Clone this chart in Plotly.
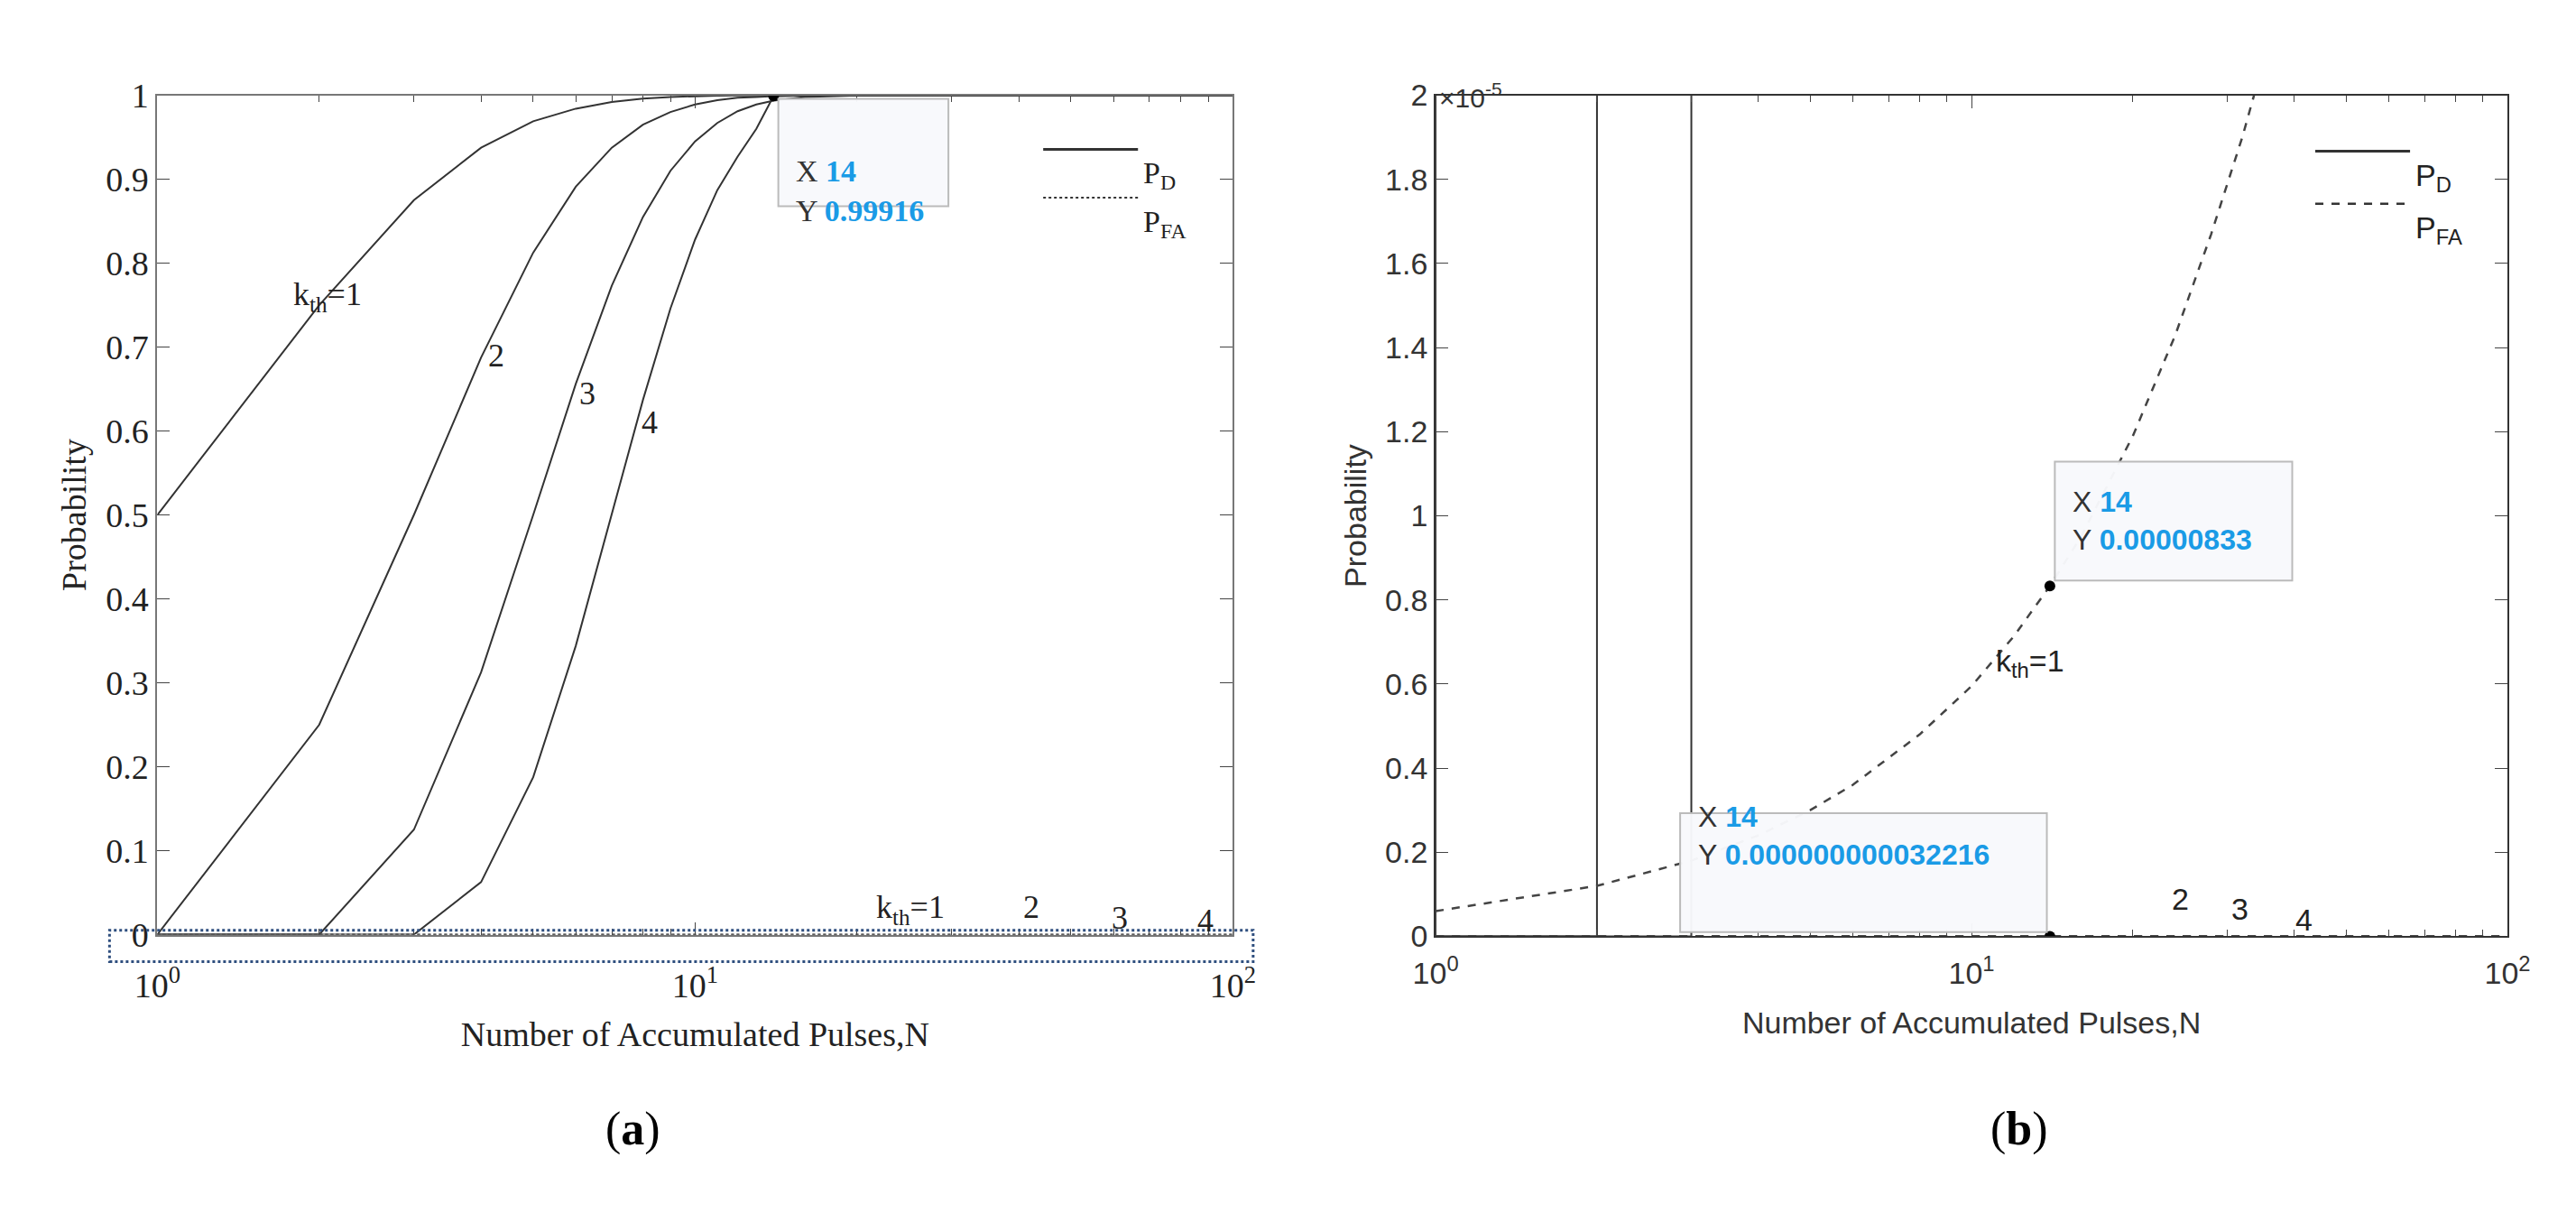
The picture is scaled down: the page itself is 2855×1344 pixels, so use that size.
import plotly.graph_objects as go

# ---------------- data ----------------
N_pd = [1, 2, 3, 4, 5, 6, 7, 8, 9, 10, 11, 12, 13, 14, 16, 20, 30, 50, 100]
pd_k1 = [0.5, 0.75, 0.875, 0.9375, 0.969, 0.984, 0.992, 0.996, 0.998, 0.999, 0.9995, 0.9998, 0.9999, 0.99995, 1, 1, 1, 1, 1]
pd_k2 = [0.0, 0.25, 0.5, 0.6875, 0.8125, 0.891, 0.9375, 0.965, 0.980, 0.989, 0.994, 0.997, 0.998, 0.999, 0.9997, 1, 1, 1, 1]
pd_k3 = [0.0, 0.0, 0.125, 0.3125, 0.5, 0.656, 0.773, 0.855, 0.910, 0.945, 0.967, 0.981, 0.989, 0.9935, 0.998, 0.9998, 1, 1, 1]
pd_k4 = [0.0, 0.0, 0.0, 0.0625, 0.1875, 0.344, 0.5, 0.637, 0.746, 0.828, 0.887, 0.927, 0.960, 0.99916, 0.9995, 0.9999, 1, 1, 1]

N_fa = [1, 2, 3, 4, 5, 6, 8, 10, 12, 14, 16, 20, 24, 28, 32, 34, 40, 60, 100]
pfa_k1 = [0.06e-5, 0.12e-5, 0.18e-5, 0.24e-5, 0.30e-5, 0.36e-5, 0.48e-5, 0.595e-5, 0.714e-5, 0.833e-5,
          0.95e-5, 1.19e-5, 1.43e-5, 1.67e-5, 1.90e-5, 2.02e-5, 2.38e-5, 3.57e-5, 5.95e-5]
pfa_k2 = [0, 0, 0, 0, 0, 0, 0, 0, 0, 3.2216e-13, 5e-13, 1e-12, 2e-12, 3e-12, 4e-12, 5e-12, 7e-12, 2e-11, 6e-11]
pfa_k3 = [0] * 19
pfa_k4 = [0] * 19

tip_x = 14
tip_a_y = 0.99916
tip_b1_y = 0.833e-5
tip_b2_y = 3.2216e-13

x_tickvals = [1, 10, 100]
x_ticktext = ["10<sup>0</sup>", "10<sup>1</sup>", "10<sup>2</sup>"]
minor_vals = [2, 3, 4, 5, 6, 7, 8, 9, 20, 30, 40, 50, 60, 70, 80, 90]
ya_vals = [0, 0.1, 0.2, 0.3, 0.4, 0.5, 0.6, 0.7, 0.8, 0.9, 1]
ya_text = ["0", "0.1", "0.2", "0.3", "0.4", "0.5", "0.6", "0.7", "0.8", "0.9", "1"]
yb_vals = [0, 0.2e-5, 0.4e-5, 0.6e-5, 0.8e-5, 1e-5, 1.2e-5, 1.4e-5, 1.6e-5, 1.8e-5, 2e-5]
yb_text = ["0", "0.2", "0.4", "0.6", "0.8", "1", "1.2", "1.4", "1.6", "1.8", "2"]

W, H = 2855, 1344
def px(x): return x / W
def py(y): return 1 - y / H

SERIF = "Liberation Serif"
SANS = "Liberation Sans"
LC = "#333333"
BLUE = "#1a9be6"

fig = go.Figure()
for ys in (pd_k1, pd_k2, pd_k3, pd_k4):
    fig.add_trace(go.Scatter(x=N_pd, y=ys, mode="lines", line=dict(color=LC, width=2),
                             xaxis="x", yaxis="y", showlegend=False, hoverinfo="skip"))
for ys in (pfa_k1, pfa_k2, pfa_k3, pfa_k4):
    fig.add_trace(go.Scatter(x=N_fa, y=ys, mode="lines", line=dict(color="#555555", width=1.5, dash="dot"),
                             xaxis="x", yaxis="y", showlegend=False, hoverinfo="skip"))
fig.add_trace(go.Scatter(x=[tip_x], y=[tip_a_y], mode="markers", marker=dict(color="black", size=12),
                         xaxis="x", yaxis="y", showlegend=False))

for ys in (pd_k1, pd_k2, pd_k3, pd_k4):
    fig.add_trace(go.Scatter(x=N_pd, y=ys, mode="lines", line=dict(color=LC, width=2),
                             xaxis="x2", yaxis="y2", showlegend=False, hoverinfo="skip"))
for ys in (pfa_k1, pfa_k2, pfa_k3, pfa_k4):
    fig.add_trace(go.Scatter(x=N_fa, y=ys, mode="lines", line=dict(color="#444444", width=2.5, dash="dash"),
                             xaxis="x2", yaxis="y2", showlegend=False, hoverinfo="skip"))
fig.add_trace(go.Scatter(x=[tip_x, tip_x], y=[tip_b1_y, tip_b2_y], mode="markers",
                         marker=dict(color="black", size=12), xaxis="x2", yaxis="y2", showlegend=False))

common_x = dict(type="log", range=[0, 2], tickvals=x_tickvals, ticktext=x_ticktext, ticks="inside",
                ticklen=14, showline=True, mirror="ticks", linewidth=2, showgrid=False, zeroline=False,
                minor=dict(tickvals=minor_vals, ticks="inside", ticklen=7))
common_y = dict(ticks="inside", ticklen=14, showline=True, mirror="ticks", linewidth=2,
                showgrid=False, zeroline=False)

fig.update_layout(
    width=W, height=H, margin=dict(l=0, r=0, t=0, b=0),
    paper_bgcolor="white", plot_bgcolor="white", showlegend=False,
    xaxis=dict(domain=[px(143), px(1357)], anchor="y", **common_x, linecolor="#777777", ticklabelstandoff=22,
               tickfont=dict(family=SERIF, size=38, color="#222"),
               title=dict(text="Number of Accumulated Pulses,N", font=dict(family=SERIF, size=38, color="#222"), standoff=20)),
    yaxis=dict(domain=[py(1039), py(79)], anchor="x", range=[0, 1], tickvals=ya_vals, ticktext=ya_text,
               **common_y, linecolor="#777777",
               tickfont=dict(family=SERIF, size=38, color="#222"),
               title=dict(text="Probability", font=dict(family=SERIF, size=38, color="#222"), standoff=10)),
    xaxis2=dict(domain=[px(1586), px(2796)], anchor="y2", **common_x, linecolor="#333", ticklabelstandoff=10,
                tickfont=dict(family=SANS, size=34, color="#333"),
                title=dict(text="Number of Accumulated Pulses,N", font=dict(family=SANS, size=34, color="#333"), standoff=25)),
    yaxis2=dict(domain=[py(1041), py(79)], anchor="x2", range=[0, 2e-5], tickvals=yb_vals, ticktext=yb_text,
                **common_y, linecolor="#333",
                tickfont=dict(family=SANS, size=34, color="#333"),
                title=dict(text="Probability", font=dict(family=SANS, size=34, color="#333"), standoff=10)),
)

ann = []
def lab(x, y, t, xr, yr, fam, size=36):
    ann.append(dict(x=x, y=y, xref=xr, yref=yr, text=t, showarrow=False,
                    font=dict(family=fam, size=size, color="#222")))

# left panel labels
lab(0.316, 0.76, "k<sub>th</sub>=1", "x", "y", SERIF)
lab(0.63, 0.69, "2", "x", "y", SERIF)
lab(0.80, 0.645, "3", "x", "y", SERIF)
lab(0.915, 0.61, "4", "x", "y", SERIF)
lab(1.40, 0.03, "k<sub>th</sub>=1", "x", "y", SERIF)
lab(1.625, 0.033, "2", "x", "y", SERIF)
lab(1.79, 0.02, "3", "x", "y", SERIF)
lab(1.95, 0.017, "4", "x", "y", SERIF)
# right panel labels
lab(1.11, 0.65e-5, "k<sub>th</sub>=1", "x2", "y2", SANS, 34)
lab(1.39, 0.09e-5, "2", "x2", "y2", SANS, 34)
lab(1.50, 0.066e-5, "3", "x2", "y2", SANS, 34)
lab(1.62, 0.04e-5, "4", "x2", "y2", SANS, 34)

shapes = []
def tip(x0, y0, x1, y1, yval, fam, size):
    shapes.append(dict(type="rect", xref="paper", yref="paper", x0=px(x0), x1=px(x1), y0=py(y1), y1=py(y0),
                       fillcolor="rgba(248,249,252,0.97)", line=dict(color="#bbbbbb", width=2), layer="above"))
    ann.append(dict(x=px(x0 + 18), y=py((y0 + y1) / 2), xref="paper", yref="paper", xanchor="left",
                    text=f"X <span style='color:{BLUE}'><b>{tip_x}</b></span><br>Y <span style='color:{BLUE}'><b>{yval}</b></span>",
                    showarrow=False, align="left", font=dict(family=fam, size=size, color="#333")))

tip(844, 83, 1036, 206, "0.99916", SERIF, 34)
tip(2285, 498, 2553, 634, "0.00000833", SANS, 32)
tip(1862, 900, 2276, 1036, "0.000000000032216", SANS, 32)

def leg(x0, x1, y, dash, text, fam, w):
    shapes.append(dict(type="line", xref="paper", yref="paper", x0=px(x0), x1=px(x1), y0=py(y), y1=py(y),
                       line=dict(color="#333", width=w, dash=dash)))
    ann.append(dict(x=px(x1 + 4), y=py(y + 6), xref="paper", yref="paper", xanchor="left", text=text,
                    showarrow=False, font=dict(family=fam, size=34, color="#222")))
leg(1143, 1250, 141, "solid", "P<sub>D</sub>", SERIF, 3)
leg(1143, 1250, 196, "dot", "P<sub>FA</sub>", SERIF, 2)
leg(2579, 2686, 143, "solid", "P<sub>D</sub>", SANS, 3)
leg(2579, 2686, 203, "dash", "P<sub>FA</sub>", SANS, 2.5)

shapes.append(dict(type="rect", xref="paper", yref="paper", x0=px(89), x1=px(1380), y0=py(1070), y1=py(1034),
                   line=dict(color="#2f4f7f", width=3, dash="dot")))

ann.append(dict(x=px(1588), y=py(58), xref="paper", yref="paper", xanchor="left", text="×10<sup>-5</sup>",
                showarrow=False, font=dict(family=SANS, size=30, color="#333")))
ann.append(dict(x=px(647), y=py(1293), xref="paper", yref="paper", text="(<b>a</b>)", showarrow=False,
                font=dict(family=SERIF, size=52, color="black")))
ann.append(dict(x=px(2280), y=py(1293), xref="paper", yref="paper", text="(<b>b</b>)", showarrow=False,
                font=dict(family=SERIF, size=52, color="black")))

fig.update_layout(annotations=ann, shapes=shapes)
fig.write_html("out.html")
